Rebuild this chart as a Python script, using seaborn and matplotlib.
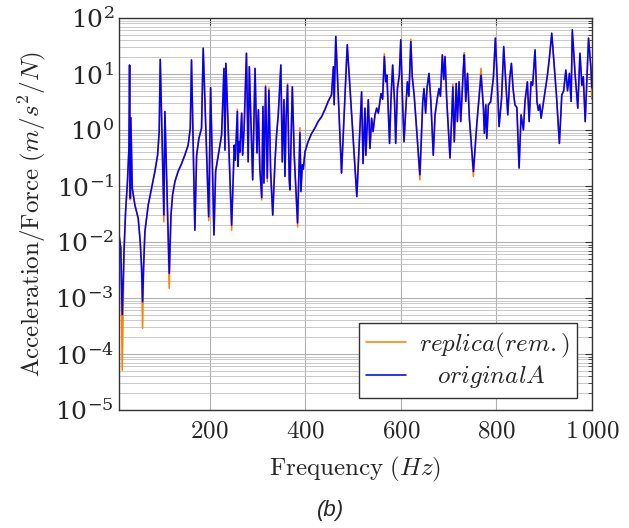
import numpy as np
import pandas as pd
import matplotlib
matplotlib.use("Agg")
import matplotlib.pyplot as plt
import matplotlib.ticker as mticker
import seaborn as sns

# frequency (Hz) of curve vertices and log10 of the original FRF magnitude
freq_hz = [
    10, 14, 17, 21, 24, 28, 31, 32.4, 34.0, 35.0, 38, 43.5, 50.5, 54.7, 57.5, 59.6,
    61.7, 64.4, 71.4, 78.4, 85.4, 91, 94.4, 96.6, 104.2, 106.3, 115.4, 119, 122.4,
    127.3, 134, 141.3, 148, 155, 159.4, 162, 169, 172.7, 177.5, 183, 186.5, 198, 202,
    209, 212.5, 218, 225, 230, 232, 234, 246, 251.5, 253.7, 258, 259.5, 261, 263, 267,
    269, 272, 277, 280.6, 283, 290, 295, 299, 302, 305, 309, 311.5, 313.6, 317, 320.6,
    324, 327.6, 332, 336.7, 340, 343.6, 349, 352, 355.5, 357.6, 360, 363, 366.6, 368,
    373, 377, 384, 389, 391, 394, 396, 399.5, 406, 413.5, 420, 427, 434.5, 441, 448,
    455, 459, 460.5, 464, 476, 488, 498.6, 508, 514.7, 518, 521, 525, 527, 532, 535.5,
    539, 542, 546, 549.6, 553, 556.5, 558.6, 562, 565.6, 568.5, 571, 574, 576.5, 579.6,
    583, 587, 589.4, 593, 597, 600, 603, 606.8, 610, 613.8, 617, 621, 624, 628, 633,
    640, 646, 648.6, 652, 655, 659, 663, 668, 671.7, 676.6, 680, 683, 687, 690, 692.6,
    696, 703, 706.6, 709, 712, 716, 718.5, 722, 725.5, 731, 733, 736, 739.7, 743.6,
    752, 759, 768, 773, 775, 778, 780, 783.4, 788, 794, 798, 801.5, 805.7, 811, 815.5,
    819.7, 824, 828, 831.5, 835, 839, 843, 847.6, 851.8, 856.7, 860, 865, 868.6,
    872.7, 876, 881, 885, 888, 891, 893.7, 897, 902, 907, 911, 916, 921.6, 925.8, 932,
    937, 941, 945.5, 949, 953, 956.5, 959, 965, 970.5, 975, 979, 982, 986, 990, 993,
    998, 1000,
]
original_log = [
    -1.85, -2.11, -3.30, -2.11, -1.46, -0.92, -0.33, 1.16, -1.22, 0.22, -1.04, -1.34,
    -1.58, -2.0, -2.46, -3.07, -2.46, -1.82, -1.34, -1.04, -0.74, -0.45, -0.03, 1.26,
    -1.52, 0.33, -2.56, -1.52, -1.16, -0.92, -0.74, -0.60, -0.45, -0.27, 0.03, 1.25,
    -1.79, -0.45, -0.15, 0.03, 1.46, -1.55, 0.755, -1.875, -0.74, -0.45, -0.09, 1.10,
    -0.36, 1.19, -1.70, -0.27, -0.54, 0.33, -0.65, -0.21, -0.40, 0.30, -0.45, 0.0,
    1.37, -0.57, 1.13, -0.89, 1.10, -0.41, 0.36, -0.68, -1.21, 0.42, -0.95, 0.77,
    -0.86, 0.71, -0.74, -1.52, -0.57, -0.09, 0.27, 1.16, -0.57, 0.54, -0.83, 0.2,
    0.80, -0.89, -1.07, 0.77, -0.45, -1.66, -0.05, -1.10, -0.62, -0.70, -0.39, -0.21,
    -0.06, 0.03, 0.15, 0.24, 0.36, 0.51, 0.625, 1.13, 0.45, 1.67, -0.77, 1.52, 0.09,
    -1.19, 0.09, 0.68, -0.60, 0.39, -0.45, 0.54, -0.33, 0.21, -0.03, 0.27, 0.39, 0.30,
    0.51, 0.65, 0.55, 1.31, 0.86, 0.98, 0.33, -0.24, 0.57, 1.16, 0.5, -0.24, 0.74,
    0.98, 1.61, 0.68, -0.21, 0.3, 0.86, 0.6, 1.58, 0.95, 0.625, 0.03, -0.80, 0.51,
    0.74, 0.3, 0.75, 1.01, 0.51, -0.45, 0.27, 0.57, 0.74, 0.6, 1.34, 0.9, 1.31, 0.57,
    -0.50, 0.21, 0.77, -0.21, 0.83, 0.15, 0.86, 0.15, 1.10, 1.34, 0.51, 1.01, 0.21,
    -0.74, 0.09, 0.98, 0.39, -0.06, 0.45, -0.15, 0.45, 0.5, 0.95, 1.64, 0.98, 0.06,
    0.57, 1.49, 0.86, 0.27, 0.92, 1.19, 0.74, 0.45, 0.4, -0.68, 0.27, 0.0, 0.51, 0.86,
    0.15, 0.86, 0.8, 1.43, 0.51, 0.35, 0.45, 0.21, 0.4, 0.68, 0.98, 1.28, 1.73, 1.10,
    0.625, -0.24, 0.625, 0.7, 1.07, 0.7, 1.01, 0.51, 1.79, 0.98, 0.39, 1.37, 0.80,
    0.95, 0.15, 0.98, 1.64, 1.10, 0.75,
]

# points where the replica curve differs from the original (log10 values)
replica_freq = [17, 34.0, 59.6, 104.2, 115.4, 198, 246, 258, 309, 317, 320.6, 324,
                363, 384, 389, 565.6, 621, 640, 709, 733, 752, 768, 815.5, 916,
                959, 1000]
replica_log = [-4.29, -1.25, -3.54, -1.64, -2.83, -1.62, -1.79, 0.37, -1.25, 0.80,
               -0.92, 0.75, 0.83, -1.73, 0.04, 1.36, 1.62, -0.89, 0.82, 1.38,
               -0.83, 1.10, 1.45, 1.70, 1.74, 0.55]

original = pd.DataFrame({"f": freq_hz, "a": 10.0 ** np.array(original_log)})
rep_log = dict(zip(freq_hz, original_log))
rep_log.update(dict(zip(replica_freq, replica_log)))
replica = pd.DataFrame({"f": list(rep_log.keys()),
                        "a": 10.0 ** np.array(list(rep_log.values()))})

sns.set_style("white")
plt.rcParams["mathtext.fontset"] = "cm"
plt.rcParams["font.family"] = ["DejaVu Serif"]

fig = plt.figure(figsize=(6.29, 5.28), dpi=100)
ax = fig.add_axes([0.189, 0.2235, 0.752, 0.7425])

sns.lineplot(data=replica, x="f", y="a", ax=ax, color="#ff8000", lw=1.15,
             estimator=None, sort=False, label=r"$replica(rem.)$")
sns.lineplot(data=original, x="f", y="a", ax=ax, color="#0000ff", lw=1.15,
             estimator=None, sort=False, label=r"$\;\;\;original A$")

ax.set_yscale("log")
ax.set_xlim(10, 1000)
ax.set_ylim(1e-5, 1e2)
ax.set_xticks([200, 400, 600, 800, 1000])
ax.set_xticklabels(["$200$", "$400$", "$600$", "$800$", r"$1\,000$"])
ax.yaxis.set_major_locator(mticker.LogLocator(base=10, numticks=10))
ax.yaxis.set_minor_locator(mticker.LogLocator(base=10, subs=np.arange(2, 10), numticks=20))
ax.yaxis.set_minor_formatter(mticker.NullFormatter())

ax.grid(True, which="major", axis="both", color="#b0b0b0", lw=0.8)
ax.grid(True, which="minor", axis="y", color="#c0c0c0", lw=0.6)
ax.set_axisbelow(True)
ax.tick_params(which="both", direction="in", top=True, right=True, labelsize=18,
               color="#333333")
ax.tick_params(which="major", length=5)
ax.tick_params(which="minor", length=3)
ax.tick_params(axis="x", pad=7)
for s in ax.spines.values():
    s.set_color("#333333")
    s.set_linewidth(1.0)

ax.set_xlabel(r"$\mathrm{Frequency}\ (Hz)$", fontsize=18, labelpad=9)
ax.set_ylabel(r"$\mathrm{Acceleration/Force}\ (m/s^2/N)$", fontsize=18, labelpad=5)

leg = ax.legend(loc="lower right", bbox_to_anchor=(0.968, 0.031), fontsize=18,
                frameon=True, fancybox=False, framealpha=1, edgecolor="#333333",
                handlelength=1.6, handletextpad=0.5, borderpad=0.3,
                labelspacing=0.15, borderaxespad=0)
leg.get_frame().set_linewidth(1.0)

fig.text(0.525, 0.033, "(b)", fontsize=16, family="Liberation Sans",
         style="italic", ha="center", va="center")

plt.savefig("out.png", dpi=100)
